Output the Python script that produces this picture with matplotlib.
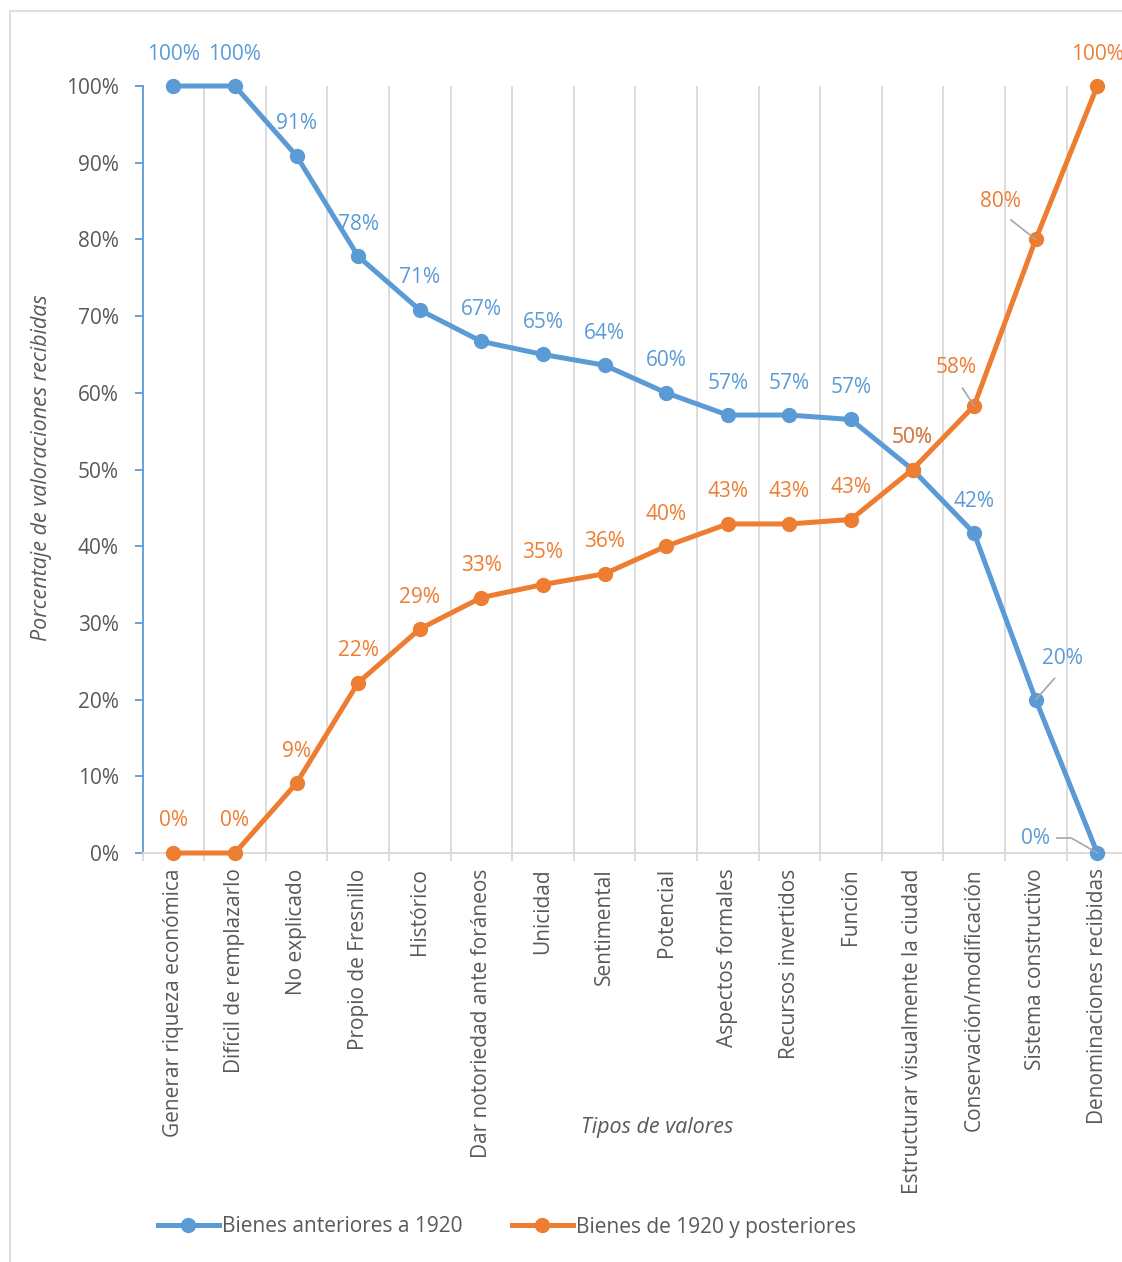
import numpy as np
import matplotlib
matplotlib.use("Agg")
import matplotlib.pyplot as plt
from matplotlib.lines import Line2D
from matplotlib.patches import Rectangle

categorias = [
    "Generar riqueza económica", "Difícil de remplazarlo", "No explicado",
    "Propio de Fresnillo", "Histórico", "Dar notoriedad ante foráneos",
    "Unicidad", "Sentimental", "Potencial", "Aspectos formales",
    "Recursos invertidos", "Función", "Estructurar visualmente la ciudad",
    "Conservación/modificación", "Sistema constructivo", "Denominaciones recibidas",
]
anteriores = [100, 100, 90.9, 77.8, 70.8, 66.7, 65.0, 63.6, 60.0, 57.1, 57.1, 56.52, 50.0, 41.7, 20.0, 0.0]
posteriores = [0, 0, 9.1, 22.2, 29.2, 33.3, 35.0, 36.4, 40.0, 42.9, 42.9, 43.48, 50.0, 58.3, 80.0, 100.0]
yticks = [0, 10, 20, 30, 40, 50, 60, 70, 80, 90, 100]

AZUL = "#5B9BD5"
NARANJA = "#ED7D31"
GRIS_TXT = "#595959"
GRIS_GRID = "#D9D9D9"
GRIS_GUIA = "#A6A6A6"

plt.rcParams['font.family'] = ['Open Sans', 'DejaVu Sans']

W, H = 1122, 1262
fig = plt.figure(figsize=(W / 100, H / 100), dpi=100)
ax = fig.add_axes([142.5 / W, 1 - 853 / H, 985.6 / W, 767 / H])

x = np.arange(len(categorias))
ya = np.array(anteriores) / 100
yp = np.array(posteriores) / 100

ax.plot(x, ya, color=AZUL, lw=3.6, marker='o', ms=10, clip_on=False, zorder=3,
        label="Bienes anteriores a 1920")
ax.plot(x, yp, color=NARANJA, lw=3.6, marker='o', ms=10, clip_on=False, zorder=3,
        label="Bienes de 1920 y posteriores")

ax.set_xlim(-0.5, len(categorias) - 0.5)
ax.set_ylim(0, 1)

# ejes
ax.set_xticks(x)
ax.set_xticklabels(categorias, rotation=90, va='top', ha='center', fontsize=15, color=GRIS_TXT)
ax.set_xticks(np.arange(-0.5, len(categorias), 1), minor=True)
ax.tick_params(axis='x', which='major', length=0, pad=11)
ax.tick_params(axis='x', which='minor', length=6, color=GRIS_GRID, width=1.3)
ax.grid(axis='x', which='minor', color=GRIS_GRID, lw=1.3)
ax.set_yticks(np.array(yticks) / 100)
ax.set_yticklabels([f"{v}%" for v in yticks], fontsize=15, color=GRIS_TXT)
ax.tick_params(axis='y', length=6, color=AZUL, width=1.3, pad=11)
for s in ['top', 'right']:
    ax.spines[s].set_visible(False)
ax.spines['left'].set_color(AZUL)
ax.spines['left'].set_linewidth(1.3)
ax.spines['bottom'].set_color(GRIS_GRID)
ax.spines['bottom'].set_linewidth(1.3)

# etiquetas de datos (desplazamientos en pixeles)
desp_a = {14: (27, 41), 15: (-62, 15)}
desp_p = {13: (-18, 38), 14: (-35, 38)}

for i, v in enumerate(anteriores):
    dx, dy = desp_a.get(i, (0, 32))
    kw = {}
    if i == 14:
        kw = dict(arrowprops=dict(arrowstyle='-', color=GRIS_GUIA, lw=1.2, relpos=(0.5, 0),
                                  shrinkA=6, shrinkB=0))
    elif i == 15:
        kw = dict(arrowprops=dict(arrowstyle='-', color=GRIS_GUIA, lw=1.2, relpos=(1, 0.5),
                                  shrinkA=3, shrinkB=0,
                                  connectionstyle="angle,angleA=0,angleB=-30,rad=0"))
    ax.annotate(f"{v:.0f}%", (i, v / 100), xytext=(dx, dy), textcoords='offset pixels',
                ha='center', va='center', fontsize=15, color=AZUL, annotation_clip=False, **kw)

for i, v in enumerate(posteriores):
    dx, dy = desp_p.get(i, (0, 32))
    kw = {}
    if i in desp_p:
        kw = dict(arrowprops=dict(arrowstyle='-', color=GRIS_GUIA, lw=1.2, relpos=(0.5, 0),
                                  shrinkA=6, shrinkB=0))
    ax.annotate(f"{v:.0f}%", (i, v / 100), xytext=(dx, dy), textcoords='offset pixels',
                ha='center', va='center', fontsize=15, color=NARANJA, annotation_clip=False, **kw)

# titulos de ejes
fig.text(657 / W, 1 - 1128 / H, "Tipos de valores", ha='center', va='center',
         fontsize=15.5, style='italic', color=GRIS_TXT)
fig.text(42 / W, 1 - 468 / H, "Porcentaje de valoraciones recibidas", ha='center', va='center',
         rotation=90, fontsize=15.5, style='italic', color=GRIS_TXT)

# leyenda
handles = [Line2D([], [], color=AZUL, lw=3.6, marker='o', ms=10),
           Line2D([], [], color=NARANJA, lw=3.6, marker='o', ms=10)]
fig.legend(handles, ["Bienes anteriores a 1920", "Bienes de 1920 y posteriores"],
           loc='center', bbox_to_anchor=(507 / W, 1 - 1227 / H), ncol=2, frameon=False,
           handlelength=2.9, handletextpad=0.15, columnspacing=2.4,
           prop={'family': ['Open Sans'], 'size': 15},
           labelcolor=GRIS_TXT)

# borde del grafico
fig.patches.append(Rectangle((9.5 / W, -0.05), 1.1, 1 - 11.5 / H + 0.05, transform=fig.transFigure,
                             fill=False, edgecolor=GRIS_GRID, lw=1.2))

fig.savefig("out.png", dpi=100)
